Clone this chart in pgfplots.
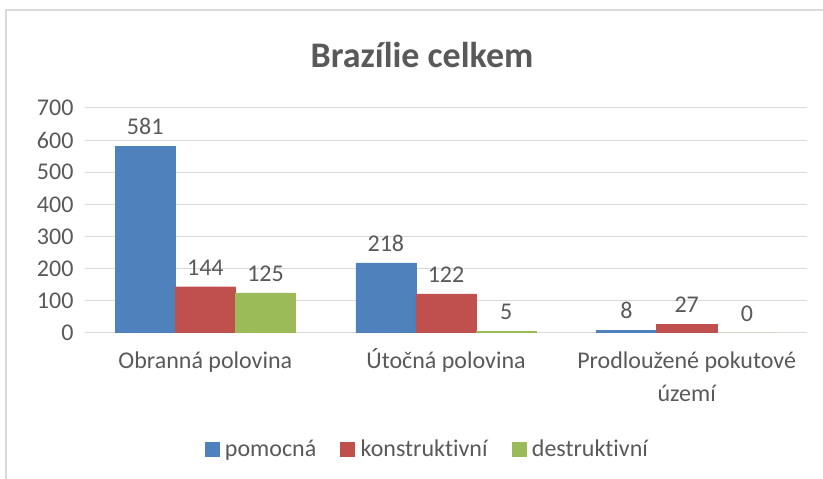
\documentclass[border=0pt]{standalone}
\usepackage{fontspec}
\setmainfont{Carlito}[Ligatures=NoCommon]
\usepackage{pgfplots}
\pgfplotsset{compat=1.18}
\definecolor{cblue}{HTML}{4F81BD}
\definecolor{cred}{HTML}{C0504D}
\definecolor{cgreen}{HTML}{9BBB59}
\definecolor{txt}{HTML}{595959}
\definecolor{gridc}{HTML}{D9D9D9}
\begin{document}
\begin{tikzpicture}[x=1pt,y=1pt]
\path[use as bounding box] (0,0) rectangle (823,479);
\draw[gridc,line width=1.5pt] (6,0) -- (6,469) -- (823,469);
\node[txt,font=\fontsize{36}{40}\selectfont\bfseries] at (422,424) {Brazílie celkem};
\begin{axis}[
  at={(85pt,146pt)}, anchor=south west,
  scale only axis, width=722pt, height=225pt,
  xmin=-0.5, xmax=2.5, ymin=0, ymax=700,
  ytick={0,100,...,700},
  xtick={0,1,2},
  xticklabels={\vphantom{Ú}Obranná polovina,Útočná polovina,{\vphantom{Ú}Prodloužené pokutové\\území}},
  x tick label style={align=center, font=\fontsize{24}{33}\selectfont, text=txt, yshift=-12pt},
  y tick label style={font=\fontsize{24}{29}\selectfont, text=txt, xshift=-8pt},
  /pgf/number format/assume math mode=true,
  ymajorgrids, grid style={draw=gridc, line width=1pt},
  axis x line*=bottom, axis y line*=left,
  x axis line style={draw=gridc, line width=1pt},
  y axis line style={draw=none},
  major tick length=0pt,
  ybar, bar width=0.25,
  nodes near coords,
  every node near coord/.append style={font=\fontsize{24}{29}\selectfont, text=txt, yshift=8pt},
  legend style={at={(0.474,-0.516)}, anchor=center, draw=none, legend columns=3,
    font=\fontsize{24}{29}\selectfont, text=txt,
    /tikz/every odd column/.append style={column sep=4pt},
    /tikz/every even column/.append style={column sep=22pt}},
  legend image code/.code={\fill[#1] (0pt,-7pt) rectangle (14pt,7pt);},
]
\addplot[fill=cblue, draw=cblue, bar shift=-0.25] coordinates {(0,581) (1,218) (2,8)};
\addplot[fill=cred, draw=cred, bar shift=0] coordinates {(0,144) (1,122) (2,27)};
\addplot[fill=cgreen, draw=cgreen, bar shift=0.25] coordinates {(0,125) (1,5) (2,0)};
\legend{pomocná, konstruktivní, destruktivní}
\end{axis}
\end{tikzpicture}
\end{document}
